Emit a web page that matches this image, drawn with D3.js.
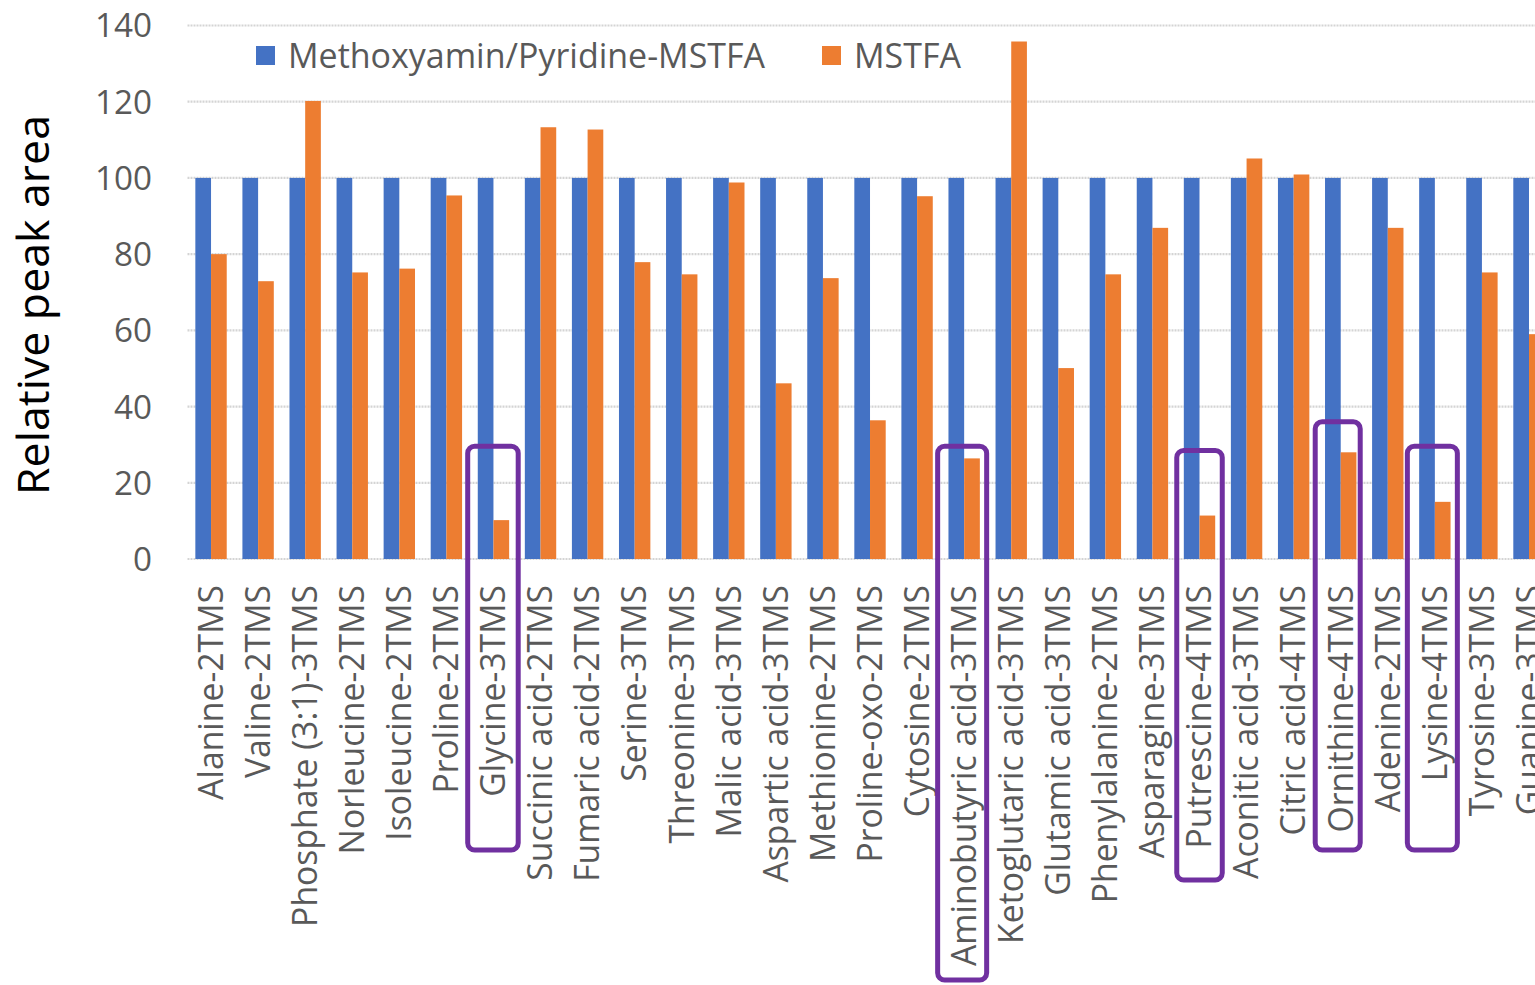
<!DOCTYPE html>
<html><head><meta charset="utf-8">
<script src="https://cdn.jsdelivr.net/npm/d3@7"></script>
<style>html,body{margin:0;padding:0;background:#fff;overflow:hidden}</style>
</head><body>
<svg id="chart" width="1535" height="985"></svg>
<script>
const categories = ["Alanine-2TMS","Valine-2TMS","Phosphate (3:1)-3TMS","Norleucine-2TMS","Isoleucine-2TMS","Proline-2TMS","Glycine-3TMS","Succinic acid-2TMS","Fumaric acid-2TMS","Serine-3TMS","Threonine-3TMS","Malic acid-3TMS","Aspartic acid-3TMS","Methionine-2TMS","Proline-oxo-2TMS","Cytosine-2TMS","Aminobutyric acid-3TMS","Ketoglutaric acid-3TMS","Glutamic acid-3TMS","Phenylalanine-2TMS","Asparagine-3TMS","Putrescine-4TMS","Aconitic acid-3TMS","Citric acid-4TMS","Ornithine-4TMS","Adenine-2TMS","Lysine-4TMS","Tyrosine-3TMS","Guanine-3TMS"];
const seriesNames = ["Methoxyamin/Pyridine-MSTFA","MSTFA"];
const methoxyamin = [100,100,100,100,100,100,100,100,100,100,100,100,100,100,100,100,100,100,100,100,100,100,100,100,100,100,100,100,100];
const mstfa = [80,72.9,120.2,75.2,76.2,95.4,10.2,113.3,112.7,77.9,74.7,98.8,46.1,73.7,36.4,95.2,26.4,135.8,50.1,74.7,86.9,11.4,105.1,100.9,28.0,86.9,15.0,75.2,59];
const yTicks = [0,20,40,60,80,100,120,140];
const highlighted = ["Glycine-3TMS","Aminobutyric acid-3TMS","Putrescine-4TMS","Ornithine-4TMS","Lysine-4TMS"];

const colors = ["#4472C4","#ED7D31"];
const svg = d3.select("#chart");
const FONT = "'Open Sans', 'Noto Sans', sans-serif";

const left = 187.5, step = 47.07;
const x = d3.scaleBand().domain(categories)
  .range([left, left + categories.length * step])
  .paddingInner(1/3).paddingOuter(1/6);
const xs = d3.scaleBand().domain(seriesNames).range([0, x.bandwidth()]);
const y = d3.scaleLinear().domain([0, 140]).range([559, 25.5]);

function fit(sel, target){
  const n = sel.node();
  const fs = parseFloat(sel.attr("font-size"));
  const w = n.getComputedTextLength();
  sel.attr("font-size", (fs * target / w).toFixed(2));
}

// gridlines
svg.append("g").selectAll("line").data(yTicks).join("line")
  .attr("x1", left).attr("x2", 1535)
  .attr("y1", d => y(d)).attr("y2", d => y(d))
  .attr("stroke", "#d4d4d4").attr("stroke-width", 2.2)
  .attr("stroke-dasharray", "2 1");

// y tick labels
const tickG = svg.append("g");
const tl = tickG.selectAll("text").data(yTicks).join("text")
  .attr("x", 152).attr("y", d => y(d))
  .attr("dy", "0.36em")
  .attr("text-anchor", "end")
  .attr("font-family", FONT).attr("font-size", 30)
  .attr("fill", "#595959")
  .text(d => d);
{
  const t140 = tl.filter(d => d === 140);
  const w = t140.node().getComputedTextLength();
  tl.attr("font-size", (30 * 57 / w).toFixed(2));
}

// bars
const data = categories.map((c, i) => ({cat: c, vals: [methoxyamin[i], mstfa[i]]}));
const groups = svg.append("g").selectAll("g").data(data).join("g")
  .attr("transform", d => `translate(${x(d.cat)},0)`);
groups.selectAll("rect").data(d => d.vals.map((v, k) => ({k, v}))).join("rect")
  .attr("x", d => xs(seriesNames[d.k]))
  .attr("width", xs.bandwidth())
  .attr("y", d => y(d.v))
  .attr("height", d => y(0) - y(d.v))
  .attr("fill", d => colors[d.k]);

// category labels
const catG = svg.append("g");
const cl = catG.selectAll("text").data(categories).join("text")
  .attr("transform", d => `translate(${x(d) + x.bandwidth()/2},585) rotate(-90)`)
  .attr("dy", "0.35em")
  .attr("text-anchor", "end")
  .attr("font-family", FONT).attr("font-size", 30)
  .attr("fill", "#595959")
  .text(d => d);
{
  const a = cl.filter(d => d === "Alanine-2TMS").node().getComputedTextLength();
  const b = cl.filter(d => d === "Phosphate (3:1)-3TMS").node().getComputedTextLength();
  const fs = 30 * (215 + 342) / (a + b);
  cl.attr("font-size", fs.toFixed(2));
}

// highlight boxes (annotation)
const boxSpec = {
  "Glycine-3TMS": {w: 50.5, top: 29.6, bottom: 850, dx: -0.5},
  "Aminobutyric acid-3TMS": {w: 49, top: 29.6, bottom: 980, dx: -2},
  "Putrescine-4TMS": {w: 45.5, top: 28.5, bottom: 880, dx: 0},
  "Ornithine-4TMS": {w: 45, top: 36, bottom: 850, dx: -3},
  "Lysine-4TMS": {w: 50, top: 29.6, bottom: 850, dx: -2.5}
};
svg.append("g").selectAll("rect").data(highlighted).join("rect")
  .attr("x", d => x(d) + x.bandwidth()/2 + boxSpec[d].dx - boxSpec[d].w/2)
  .attr("width", d => boxSpec[d].w)
  .attr("y", d => y(boxSpec[d].top))
  .attr("height", d => boxSpec[d].bottom - y(boxSpec[d].top))
  .attr("rx", 7).attr("ry", 7)
  .attr("fill", "none").attr("stroke", "#7030A0").attr("stroke-width", 5);

// legend
const lg = svg.append("g");
const legendX = [256, 822];
seriesNames.forEach((s, i) => {
  lg.append("rect").attr("x", legendX[i]).attr("y", 46).attr("width", 19).attr("height", 19).attr("fill", colors[i]);
  const t = lg.append("text").attr("x", legendX[i] + 32).attr("y", 56)
    .attr("dy", "0.36em")
    .attr("font-family", FONT).attr("font-size", 30).attr("fill", "#595959").text(s);
  if (i === 0) fit(t, 477);
  else t.attr("font-size", lg.select("text").attr("font-size"));
});

// y axis title
const yt = svg.append("text")
  .attr("transform", "translate(33,305) rotate(-90)")
  .attr("text-anchor", "middle").attr("dy", "0.35em")
  .attr("font-family", FONT).attr("font-size", 36).attr("fill", "#000")
  .text("Relative peak area");
fit(yt, 380);
</script>
</body></html>
